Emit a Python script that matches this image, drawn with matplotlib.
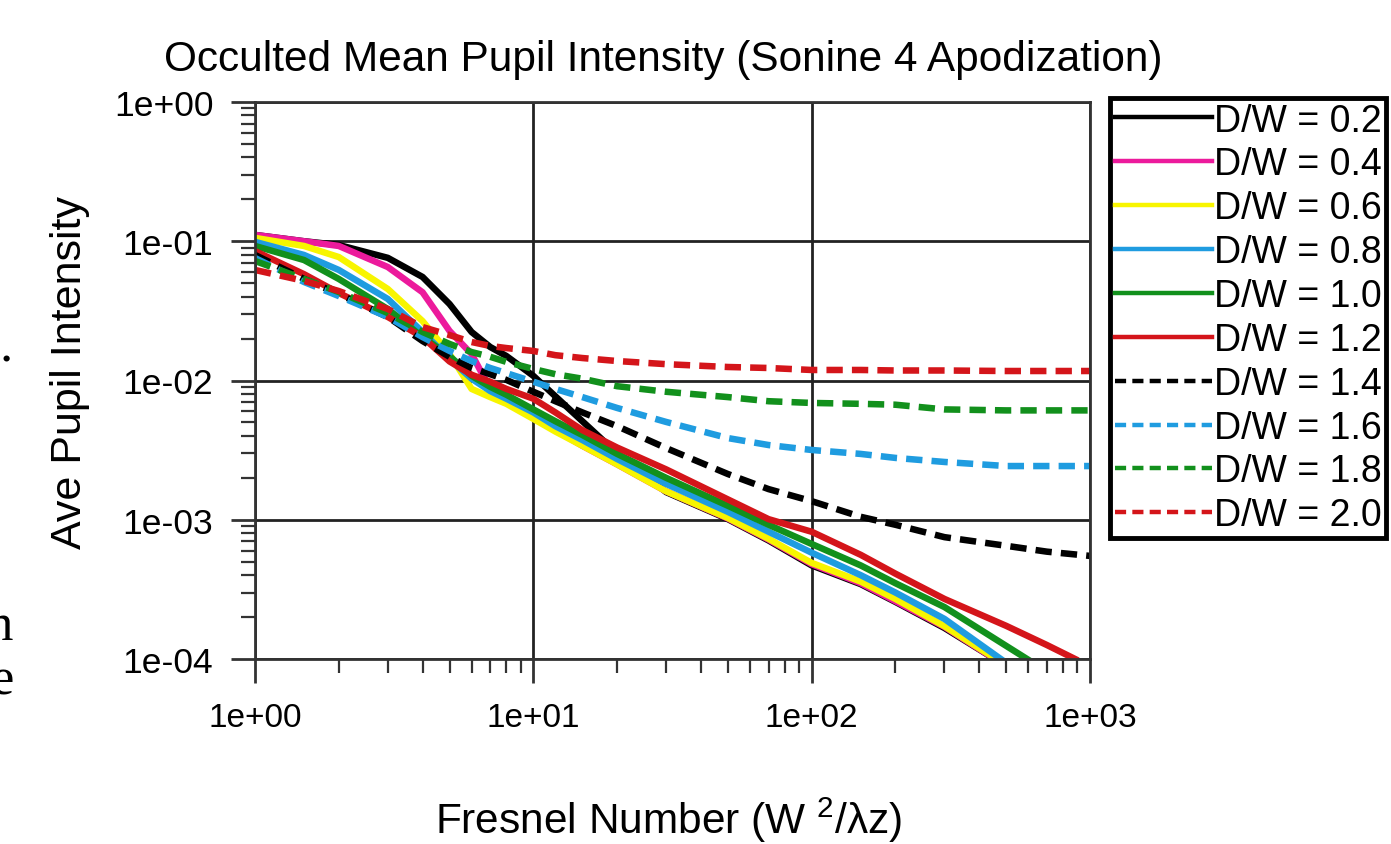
import matplotlib
matplotlib.use("Agg")
import matplotlib.pyplot as plt
from matplotlib.ticker import LogLocator, FuncFormatter, NullFormatter

plt.rcParams["font.family"] = ["Liberation Sans", "DejaVu Sans"]
plt.rcParams["mathtext.fontset"] = "custom"
plt.rcParams["mathtext.rm"] = "Liberation Sans"

# ---------------------------------------------------------------------------
# data
# ---------------------------------------------------------------------------
fresnel = [1, 1.5, 2, 3, 4, 5, 6, 7, 8, 10, 12, 15, 20, 30, 50, 70,
           100, 150, 200, 300, 500, 700, 1000]

labels = ["D/W = 0.2", "D/W = 0.4", "D/W = 0.6", "D/W = 0.8", "D/W = 1.0",
          "D/W = 1.2", "D/W = 1.4", "D/W = 1.6", "D/W = 1.8", "D/W = 2.0"]

# solid curves: values on the first 20 grid points, then a tail down to 1e-4
dw02 = [0.111, 0.100, 0.094, 0.076, 0.0554, 0.0354, 0.0223, 0.0174, 0.0150, 0.0108,
        0.0077, 0.0051, 0.0030, 0.00158, 0.00101, 0.00071, 0.00047, 0.000345, 0.000257, 0.000167]
dw04 = [0.111, 0.100, 0.0925, 0.0653, 0.043, 0.0227, 0.0155, 0.0087, 0.0074, 0.0055,
        0.0044, 0.0034, 0.0025, 0.0016, 0.00102, 0.00072, 0.00048, 0.00035, 0.00026, 0.00017]
dw06 = [0.1057, 0.0925, 0.077, 0.0454, 0.0267, 0.0155, 0.0087, 0.0076, 0.0068, 0.0053,
        0.0043, 0.0034, 0.0025, 0.0016, 0.00103, 0.00073, 0.00049, 0.00036, 0.00027, 0.000172]
dw08 = [0.099, 0.0797, 0.0622, 0.0385, 0.0223, 0.0143, 0.0103, 0.0084, 0.0074, 0.0059,
        0.0047, 0.00374, 0.00273, 0.00181, 0.00114, 0.00082, 0.00058, 0.0004, 0.0003, 0.000194]
dw10 = [0.0925, 0.0733, 0.0536, 0.0326, 0.0205, 0.0150, 0.0108, 0.0090, 0.0079, 0.0062,
        0.0051, 0.00406, 0.00297, 0.0020, 0.00126, 0.00092, 0.00067, 0.00047, 0.00035, 0.000236]
dw12 = [0.085, 0.058, 0.0425, 0.0286, 0.0205, 0.0137, 0.0110, 0.0098, 0.0087, 0.0074,
        0.0059, 0.0044, 0.0033, 0.0023, 0.0014, 0.00101, 0.00082, 0.00056, 0.00041, 0.00027]

tail_x = [[455], [455], [460], [478], [594], [500, 700, 884]]
tail_y = [[1e-4], [1e-4], [1e-4], [1e-4], [1e-4], [0.000173, 0.000126, 1e-4]]

# dashed curves: full grid
dw14 = [0.0797, 0.0536, 0.0418, 0.0286, 0.0192, 0.0148, 0.0123, 0.0111, 0.0101, 0.0083,
        0.0071, 0.0059, 0.0047, 0.00327, 0.00213, 0.00166, 0.00136, 0.00105, 0.00092,
        0.00075, 0.00065, 0.00059, 0.00055]
dw16 = [0.0758, 0.051, 0.0404, 0.0286, 0.0205, 0.0163, 0.0138, 0.0123, 0.0113, 0.0098,
        0.0087, 0.0076, 0.00635, 0.00504, 0.00386, 0.00344, 0.00317, 0.00297, 0.00278,
        0.0026, 0.00243, 0.00243, 0.00243]
dw18 = [0.0722, 0.0536, 0.0432, 0.0305, 0.0223, 0.0183, 0.016, 0.0148, 0.0136, 0.0121,
        0.0111, 0.0103, 0.0091, 0.0083, 0.0076, 0.0071, 0.0069, 0.0068, 0.0067,
        0.0062, 0.0061, 0.0061, 0.0061]
dw20 = [0.0622, 0.0519, 0.0439, 0.0326, 0.0242, 0.0212, 0.0189, 0.0177, 0.0171, 0.0163,
        0.0152, 0.0145, 0.0138, 0.0131, 0.0125, 0.0123, 0.0119, 0.0119, 0.0118,
        0.0118, 0.0117, 0.0117, 0.0117]

solid_series = [dw02, dw04, dw06, dw08, dw10, dw12]
dashed_series = [dw14, dw16, dw18, dw20]
colors = ["#000000", "#ec1a9c", "#f8f500", "#1f9ce0", "#12901c", "#d4151a",
          "#000000", "#1f9ce0", "#12901c", "#d4151a"]

# ---------------------------------------------------------------------------
fig = plt.figure(figsize=(13.91, 8.45), dpi=100)
ax = fig.add_axes([255 / 1391, 1 - 660 / 845, 835 / 1391, 557 / 845])

for i, ys in enumerate(solid_series):
    xs = fresnel[:len(ys)] + tail_x[i]
    ax.plot(xs, ys + tail_y[i], color=colors[i], lw=4.7, label=labels[i],
            solid_joinstyle="round")

for j, ys in enumerate(dashed_series):
    k = 6 + j
    ax.plot(fresnel, ys, color=colors[k], lw=4.7, ls=(0, (2.5, 1.4)), label=labels[k])

ax.set_xscale("log")
ax.set_yscale("log")
ax.set_xlim(1, 1000)
ax.set_ylim(1e-4, 1)

ax.grid(True, which="major", color="#222222", lw=2)
for s in ax.spines.values():
    s.set_linewidth(2)
    s.set_color("#333333")

fmt = FuncFormatter(lambda v, p: f"{v:.0e}")
ax.xaxis.set_major_formatter(fmt)
ax.yaxis.set_major_formatter(fmt)
ax.xaxis.set_minor_locator(LogLocator(base=10, subs=range(2, 10)))
ax.yaxis.set_minor_locator(LogLocator(base=10, subs=range(2, 10)))
ax.xaxis.set_minor_formatter(NullFormatter())
ax.yaxis.set_minor_formatter(NullFormatter())
ax.tick_params(which="major", direction="out", length=17, width=2, color="#333333")
ax.tick_params(which="minor", direction="out", length=10, width=1.6, color="#333333")
ax.tick_params(axis="y", which="major", labelsize=25.5, pad=13)
ax.tick_params(axis="x", which="major", labelsize=24, pad=14)

ax.set_xlabel("Fresnel Number (W $^{2}$/λz)", fontsize=30.5)
ax.xaxis.set_label_coords(0.495, -0.243)
ax.set_ylabel("Ave Pupil Intensity", fontsize=31)
ax.yaxis.set_label_coords(-0.198, 0.517)

fig.text(663 / 1391, 1 - 60 / 845, "Occulted Mean Pupil Intensity (Sonine 4 Apodization)",
         fontsize=30.5, ha="center", va="center")

leg = ax.legend(loc="upper left", bbox_to_anchor=(1110 / 1391, 1 - 99 / 845),
                bbox_transform=fig.transFigure, fontsize=27, frameon=True,
                fancybox=False, edgecolor="black", handlelength=2.6,
                handletextpad=0.05, labelspacing=0.21, borderpad=0.12,
                borderaxespad=0, framealpha=1)
leg.get_frame().set_linewidth(3.5)
for ln in leg.get_lines():
    ln.set_linewidth(3.2)

# stray characters from the cropped page on the left edge
fig.text(13 / 1391, 1 - 362 / 845, ".", family="Liberation Serif", fontsize=38,
         ha="right", va="baseline")
fig.text(13 / 1391, 1 - 640 / 845, "n", family="Liberation Serif", fontsize=38,
         ha="right", va="baseline")
fig.text(14 / 1391, 1 - 695 / 845, "e", family="Liberation Serif", fontsize=38,
         ha="right", va="baseline")

fig.savefig("out.png", dpi=100)
